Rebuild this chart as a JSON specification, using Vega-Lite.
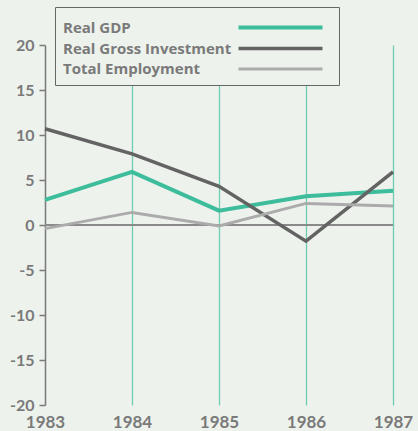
{
  "$schema": "https://vega.github.io/schema/vega-lite/v6.json",
  "width": 348,
  "height": 360,
  "autosize": {"type": "none"},
  "padding": {"left": 45, "top": 45, "right": 25, "bottom": 26},
  "background": "#edf2ec",
  "config": {
    "view": {"stroke": null},
    "font": "Lato"
  },
  "data": {
    "values": [
      {"Year": 1983, "Series": "Real GDP", "Value": 2.8},
      {"Year": 1984, "Series": "Real GDP", "Value": 5.9},
      {"Year": 1985, "Series": "Real GDP", "Value": 1.6},
      {"Year": 1986, "Series": "Real GDP", "Value": 3.2},
      {"Year": 1987, "Series": "Real GDP", "Value": 3.8},
      {"Year": 1983, "Series": "Real Gross Investment", "Value": 10.7},
      {"Year": 1984, "Series": "Real Gross Investment", "Value": 7.9},
      {"Year": 1985, "Series": "Real Gross Investment", "Value": 4.3},
      {"Year": 1986, "Series": "Real Gross Investment", "Value": -1.8},
      {"Year": 1987, "Series": "Real Gross Investment", "Value": 5.9},
      {"Year": 1983, "Series": "Total Employment", "Value": -0.4},
      {"Year": 1984, "Series": "Total Employment", "Value": 1.4},
      {"Year": 1985, "Series": "Total Employment", "Value": -0.1},
      {"Year": 1986, "Series": "Total Employment", "Value": 2.4},
      {"Year": 1987, "Series": "Total Employment", "Value": 2.1}
    ]
  },
  "layer": [
    {
      "mark": {"type": "rule", "color": "#8a8a8a", "strokeWidth": 1.5},
      "encoding": {"y": {"datum": 0, "type": "quantitative", "scale": {"domain": [-20, 20]}}}
    },
    {
      "mark": {"type": "line", "strokeJoin": "miter"},
      "encoding": {
        "x": {
          "field": "Year",
          "type": "quantitative",
          "scale": {"domain": [1983, 1987], "nice": false, "zero": false},
          "axis": {
            "title": null,
            "values": [1983, 1984, 1985, 1986, 1987],
            "format": "d",
            "domain": false,
            "ticks": false,
            "grid": true,
            "gridColor": {"condition": {"test": "datum.value === 1983", "value": "transparent"}, "value": "#72ccb4"},
            "gridWidth": 1.3,
            "labelFont": "Lato",
            "labelFontWeight": "bold",
            "labelFontSize": 17,
            "labelColor": "#7a7a7a",
            "labelPadding": 9,
            "labelDx": 3,
            "labelOverlap": false,
            "labelFlush": false
          }
        },
        "y": {
          "field": "Value",
          "type": "quantitative",
          "scale": {"domain": [-20, 20], "nice": false},
          "axis": {
            "title": null,
            "values": [-20, -15, -10, -5, 0, 5, 10, 15, 20],
            "labelExpr": "'' + datum.value",
            "grid": false,
            "domainColor": "#7a7a7a",
            "domainWidth": 1.5,
            "tickColor": "#7a7a7a",
            "tickWidth": 1.5,
            "tickSize": 6,
            "labelFont": "Lato",
            "labelFontWeight": "bold",
            "labelFontSize": 16,
            "labelColor": "#7a7a7a",
            "labelPadding": 5
          }
        },
        "color": {
          "field": "Series",
          "type": "nominal",
          "scale": {
            "domain": ["Real GDP", "Real Gross Investment", "Total Employment"],
            "range": ["#3dbd9c", "#636363", "#ababab"]
          },
          "legend": {
            "title": null,
            "orient": "none",
            "legendX": 10,
            "legendY": -38,
            "direction": "vertical",
            "symbolType": "M-4,0H4",
            "symbolSize": 441,
            "symbolStrokeWidth": 4,
            "symbolOffset": 205,
            "labelOffset": -230,
            "labelLimit": 300,
            "labelFont": "Open Sans",
            "labelFontWeight": "bold",
            "labelFontSize": 15,
            "labelColor": "#7a7a7a",
            "rowPadding": 0,
            "padding": 8,
            "strokeColor": "#666666",
            "fillColor": "#edf2ec"
          }
        },
        "strokeWidth": {
          "field": "Series",
          "type": "nominal",
          "scale": {
            "domain": ["Real GDP", "Real Gross Investment", "Total Employment"],
            "range": [4, 3, 2.5]
          },
          "legend": null
        }
      }
    }
  ]
}
